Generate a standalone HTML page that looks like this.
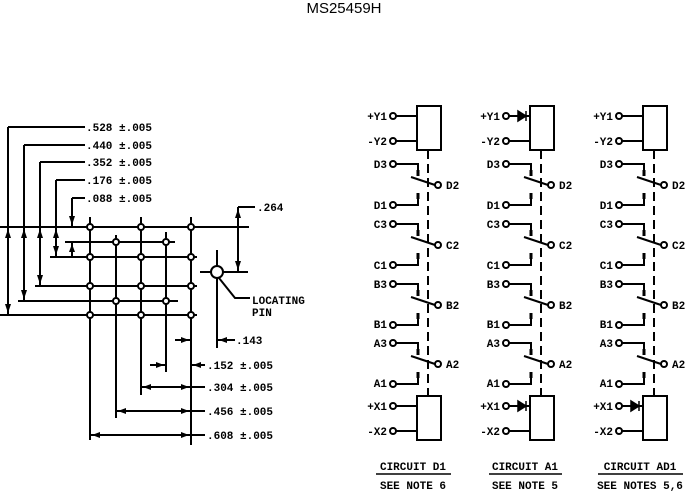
<!DOCTYPE html>
<html><head><meta charset="utf-8"><style>
html,body{margin:0;padding:0;background:#fff;}
svg{display:block;}
text{font-family:"Liberation Mono",monospace;font-weight:bold;font-size:11px;fill:#000;}
</style></head><body>
<svg width="688" height="491" viewBox="0 0 688 491" xmlns="http://www.w3.org/2000/svg">
<defs>
<g id="sw" stroke="#000" stroke-width="2" fill="none">
<path d="M396,0H418V12"/><path d="M418,6V12" stroke-width="3"/>
<path d="M411,13L435,21"/>
<circle cx="438" cy="21" r="3" fill="#fff"/>
<circle cx="393" cy="0" r="3" fill="#fff"/>
<circle cx="393" cy="41" r="3" fill="#fff"/>
<path d="M396,41H418V29"/><path d="M418,29V35" stroke-width="3"/>
</g>
<g id="circ" stroke="#000" stroke-width="2" fill="none">
<rect x="417" y="106" width="24" height="44" fill="#fff"/>
<rect x="417" y="396" width="24" height="44" fill="#fff"/>
<path d="M428,150V396" stroke-dasharray="9,5"/>
<circle cx="393" cy="116" r="3" fill="#fff"/>
<circle cx="393" cy="141" r="3" fill="#fff"/>
<circle cx="393" cy="406" r="3" fill="#fff"/>
<circle cx="393" cy="431" r="3" fill="#fff"/>
<path d="M396,141H417M396,431H417"/>
</g>
</defs>
<text x="344" y="13" text-anchor="middle" style="font-family:'Liberation Sans',sans-serif;font-weight:normal;font-size:15px">MS25459H</text>

<!-- left grid -->
<g stroke="#000" stroke-width="2" fill="none">
<path d="M0,227H249M65,242H175M50,257H197M35,286H197M18,301H178M0,315H197M200,272H248"/>
<path d="M90,217V440M141,217V395M191,217V445M116,235V418M166,232V372M217,250V348"/>
<path d="M8,127H85M8,127V315M24,145H85M24,145V301M40,162H85M40,162V286M56,180H85M56,180V257M72,198H85M72,198V227M72,242V257"/>
<path d="M238,207H255M238,207V272"/>
<path d="M175,340H191M217,340H235M150,365H166M191,365H205M141,387H205M116,411H205M90,435H205"/>
</g>
<g fill="#000">
<path d="M5,238L8,229L11,238zM21,238L24,229L27,238zM37,238L40,229L43,238zM53,238L56,229L59,238z"/>
<path d="M5,304L8,313L11,304zM21,290L24,299L27,290zM37,275L40,284L43,275zM53,246L56,255L59,246z"/>
<path d="M69,216L72,225L75,216zM69,252L72,244L75,252zM235,218L238,209L241,218zM235,261L238,270L241,261z"/>
<path d="M181,337L189,340L181,343zM227,337L219,340L227,343zM156,362L164,365L156,368zM201,362L193,365L201,368z"/>
<path d="M151,384L143,387L151,390zM181,384L189,387L181,390zM126,408L118,411L126,414zM181,408L189,411L181,414zM100,432L92,435L100,438zM181,432L189,435L181,438z"/>
</g>
<g fill="#fff" stroke="#000" stroke-width="2">
<circle cx="90" cy="227" r="3"/><circle cx="141" cy="227" r="3"/><circle cx="191" cy="227" r="3"/>
<circle cx="116" cy="242" r="3"/><circle cx="166" cy="242" r="3"/>
<circle cx="90" cy="257" r="3"/><circle cx="141" cy="257" r="3"/><circle cx="191" cy="257" r="3"/>
<circle cx="90" cy="286" r="3"/><circle cx="141" cy="286" r="3"/><circle cx="191" cy="286" r="3"/>
<circle cx="116" cy="301" r="3"/><circle cx="166" cy="301" r="3"/>
<circle cx="90" cy="315" r="3"/><circle cx="141" cy="315" r="3"/><circle cx="191" cy="315" r="3"/>
<circle cx="217" cy="272" r="6"/>
</g>
<path d="M219,278L235,298H250" stroke="#000" stroke-width="2" fill="none"/>
<g>
<text x="86" y="131">.528 ±.005</text>
<text x="86" y="149">.440 ±.005</text>
<text x="86" y="166">.352 ±.005</text>
<text x="86" y="184">.176 ±.005</text>
<text x="86" y="202">.088 ±.005</text>
<text x="257" y="211">.264</text>
<text x="252" y="304">LOCATING</text>
<text x="252" y="316">PIN</text>
<text x="236" y="344">.143</text>
<text x="207" y="369">.152 ±.005</text>
<text x="207" y="391">.304 ±.005</text>
<text x="207" y="415">.456 ±.005</text>
<text x="207" y="439">.608 ±.005</text>
</g>

<!-- circuits -->
<g>
<use href="#circ"/>
<use href="#sw" y="164"/><use href="#sw" y="224"/><use href="#sw" y="284"/><use href="#sw" y="343"/>
<path d="M396,116H417M396,406H417" stroke="#000" stroke-width="2"/>
</g>
<g transform="translate(113,0)">
<use href="#circ"/>
<use href="#sw" y="164"/><use href="#sw" y="224"/><use href="#sw" y="284"/><use href="#sw" y="343"/>
<path d="M396,116H417M396,406H417" stroke="#000" stroke-width="2"/>
<path d="M405,111L413,116L405,121z M413,111V121M405,401L413,406L405,411z M413,401V411" fill="#000" stroke="#000" stroke-width="1.5"/>
</g>
<g transform="translate(226,0)">
<use href="#circ"/>
<use href="#sw" y="164"/><use href="#sw" y="224"/><use href="#sw" y="284"/><use href="#sw" y="343"/>
<path d="M396,116H417M396,406H417" stroke="#000" stroke-width="2"/>
<path d="M405,401L413,406L405,411z M413,401V411" fill="#000" stroke="#000" stroke-width="1.5"/>
</g>
<g text-anchor="end">
<text x="387" y="120">+Y1</text><text x="387" y="145">-Y2</text>
<text x="387" y="168">D3</text><text x="387" y="209">D1</text>
<text x="387" y="228">C3</text><text x="387" y="269">C1</text>
<text x="387" y="288">B3</text><text x="387" y="328">B1</text>
<text x="387" y="347">A3</text><text x="387" y="387">A1</text>
<text x="387" y="410">+X1</text><text x="387" y="435">-X2</text>
<text x="500" y="120">+Y1</text><text x="500" y="145">-Y2</text>
<text x="500" y="168">D3</text><text x="500" y="209">D1</text>
<text x="500" y="228">C3</text><text x="500" y="269">C1</text>
<text x="500" y="288">B3</text><text x="500" y="328">B1</text>
<text x="500" y="347">A3</text><text x="500" y="387">A1</text>
<text x="500" y="410">+X1</text><text x="500" y="435">-X2</text>
<text x="613" y="120">+Y1</text><text x="613" y="145">-Y2</text>
<text x="613" y="168">D3</text><text x="613" y="209">D1</text>
<text x="613" y="228">C3</text><text x="613" y="269">C1</text>
<text x="613" y="288">B3</text><text x="613" y="328">B1</text>
<text x="613" y="347">A3</text><text x="613" y="387">A1</text>
<text x="613" y="410">+X1</text><text x="613" y="435">-X2</text>
</g>
<g>
<text x="446" y="189">D2</text><text x="446" y="249">C2</text><text x="446" y="309">B2</text><text x="446" y="368">A2</text>
<text x="559" y="189">D2</text><text x="559" y="249">C2</text><text x="559" y="309">B2</text><text x="559" y="368">A2</text>
<text x="672" y="189">D2</text><text x="672" y="249">C2</text><text x="672" y="309">B2</text><text x="672" y="368">A2</text>
</g>
<g text-anchor="middle">
<text x="413" y="470">CIRCUIT D1</text><text x="413" y="489">SEE NOTE 6</text>
<text x="525" y="470">CIRCUIT A1</text><text x="525" y="489">SEE NOTE 5</text>
<text x="640" y="470">CIRCUIT AD1</text><text x="640" y="489">SEE NOTES 5,6</text>
</g>
<path d="M376,474H451M489,474H562M598,474H683" stroke="#000" stroke-width="1.5"/>
</svg>
</body></html>
